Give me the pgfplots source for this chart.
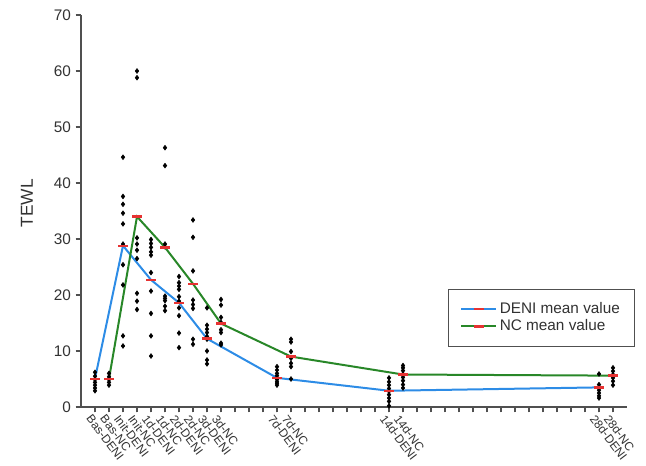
\documentclass[border=0pt]{standalone}
\usepackage{fontspec}
\setmainfont{Liberation Sans}
\usepackage{pgfplots}
\pgfplotsset{compat=1.18}
\usepackage{pgfplotstable}

\definecolor{deniblue}{RGB}{45,140,230}
\definecolor{ncgreen}{RGB}{40,135,40}
\definecolor{meanred}{RGB}{230,50,50}
\definecolor{axgray}{RGB}{80,80,80}
\definecolor{txtgray}{RGB}{50,50,50}

% individual measurements, x = column position
\pgfplotstableread{
x y
0 6.2
0 5.5
0 4.9
0 4.4
0 3.9
0 3.4
0 2.9
1 6.0
1 5.4
1 4.9
1 4.4
1 3.9
2 44.6
2 37.6
2 36.2
2 34.6
2 32.7
2 29.1
2 25.4
2 21.8
2 12.7
2 10.9
3 60.0
3 58.8
3 30.2
3 29.1
3 28.0
3 26.5
3 20.3
3 18.9
3 17.4
4 29.9
4 29.2
4 28.5
4 27.7
4 27.1
4 24.0
4 20.7
4 16.7
4 12.7
4 9.1
5 46.3
5 43.1
5 29.1
5 28.6
5 19.8
5 19.4
5 19.0
5 18.0
5 17.2
6 23.3
6 22.2
6 21.6
6 21.0
6 19.7
6 18.9
6 17.7
6 16.3
6 13.2
6 10.6
7 33.4
7 30.3
7 24.3
7 19.1
7 18.3
7 17.6
7 12.1
7 11.2
8 17.7
8 14.6
8 13.9
8 13.3
8 12.6
8 12.1
8 10.0
8 8.4
8 7.7
9 19.2
9 18.2
9 16.0
9 15.1
9 13.8
9 13.3
9 11.4
9 11.1
13 7.2
13 6.6
13 6.0
13 5.6
13 5.2
13 4.9
13 4.5
13 4.2
13 3.9
14 12.1
14 11.6
14 9.9
14 8.7
14 7.8
14 7.2
14 5.0
21 5.2
21 4.5
21 3.9
21 3.3
21 2.8
21 2.2
21 1.6
21 1.0
21 0.2
22 7.4
22 7.0
22 6.5
22 5.9
22 5.3
22 4.7
22 4.0
22 3.4
36 5.9
36 4.0
36 3.5
36 3.0
36 2.5
36 2.0
36 1.6
37 7.0
37 6.4
37 5.8
37 5.2
37 4.6
37 3.9
}\points

\pgfplotstableread{
x y
0 5.05
2 28.8
4 22.7
6 18.6
8 12.2
13 5.2
21 2.9
36 3.5
}\denimean

\pgfplotstableread{
x y
1 5.05
3 34.0
5 28.5
7 22.0
9 14.9
14 9.0
22 5.8
37 5.6
}\ncmean

\begin{document}
\begin{tikzpicture}
\begin{axis}[
  scale only axis,
  width=409.5pt, height=294pt,
  xmin=-1, xmax=38, ymin=0, ymax=70,
  axis x line*=bottom, axis y line*=left,
  axis line style={-, draw=axgray, line width=0.9pt},
  tick align=outside, major tick length=4pt,
  tick style={draw=axgray, line width=0.8pt},
  ytick={0,10,...,70},
  yticklabel style={font=\fontsize{11.5}{13}\selectfont, text=txtgray,
    /pgf/number format/assume math mode=true},
  xtick={0,...,37}, xticklabels={},
  extra x ticks={0,1,2,3,4,5,6,7,8,9,13,14,21,22,36,37},
  extra x tick labels={Bas-DENI,Bas-NC,Init-DENI,Init-NC,1d-DENI,1d-NC,2d-DENI,2d-NC,3d-DENI,3d-NC,7d-DENI,7d-NC,14d-DENI,14d-NC,28d-DENI,28d-NC},
  extra x tick style={grid=none,
    xticklabel style={font=\fontsize{9}{10}\selectfont, text=txtgray,
      rotate=-53, anchor=north west, inner sep=1pt, xshift=-1.5pt, yshift=-1pt}},
  ylabel={TEWL},
  every axis y label/.style={at={(axis description cs:-0.099,0.52)},
    rotate=90, anchor=center, font=\fontsize{13}{15}\selectfont, text=txtgray},
  legend style={at={(1.0147,0.301)}, anchor=north east,
    draw=axgray, line width=0.6pt, inner xsep=9pt, inner ysep=8pt,
    font=\fontsize{11.5}{12}\selectfont, text=txtgray,
    row sep=-1pt},
  legend cell align=left,
  legend image code/.code={
    \draw[mark repeat=2, mark phase=2] plot coordinates {(0cm,0cm) (0.46cm,0cm) (0.92cm,0cm)};},
  clip=false,
]
\addplot[only marks, mark=diamond*, mark size=1.8pt, black, forget plot]
  table[x=x, y=y] {\points};
\addplot[deniblue, line width=1.5pt, mark=-, mark size=3.75pt,
  mark options={meanred, line width=1.8pt}]
  table[x=x, y=y] {\denimean};
\addlegendentry{DENI mean value}
\addplot[ncgreen, line width=1.5pt, mark=-, mark size=3.75pt,
  mark options={meanred, line width=1.8pt}]
  table[x=x, y=y] {\ncmean};
\addlegendentry{NC mean value}
\end{axis}
\pgfresetboundingbox
\path ([shift={(-60.75pt,-44.25pt)}]current axis.south west)
  rectangle ([shift={(14.25pt,11.25pt)}]current axis.north east);
\end{tikzpicture}
\end{document}
